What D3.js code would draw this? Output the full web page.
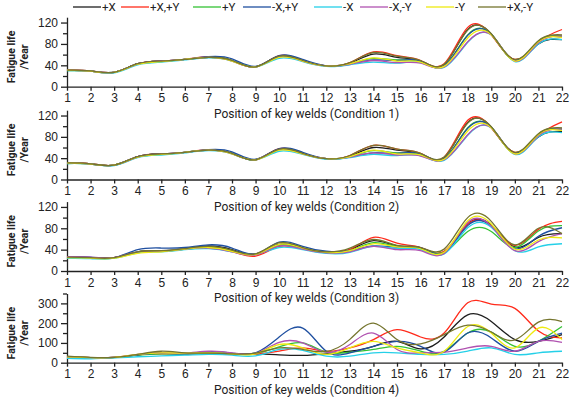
<!DOCTYPE html>
<html>
<head>
<meta charset="utf-8">
<script src="https://cdn.jsdelivr.net/npm/d3@7"></script>
<style>
  body { margin: 0; background: #fff; }
  svg { font-family: Roboto, "Liberation Sans", sans-serif; }
</style>
</head>
<body>
<svg id="chart" width="573" height="399"></svg>
<script>
// weld positions along x
const positions = [1,2,3,4,5,6,7,8,9,10,11,12,13,14,15,16,17,18,19,20,21,22];
const seriesNames = ['+X', '+X,+Y', '+Y', '-X,+Y', '-X', '-X,-Y', '-Y', '+X,-Y'];
const seriesColors = ['#1e1e1e', '#ff2a1a', '#34c234', '#1f4fa0', '#25d0e8', '#b052b0', '#eeea10', '#75752e'];

// fatigue life (years), one row per series in seriesNames order
const cond1 = [
  [31,29.5,27,43,48,51,55,49,37,57,49,39,44,61,55,48,41,107,98,50,80,88],
  [31,29.5,27,43,48,51,56,49,37,58,49,39,45,65,58,49,43,111,97,51,83,107],
  [30,29,27,42,47,51,55,49,37,57,49,39,43,53,50,47,39,97,98,49,85,95],
  [31,29,27,43,48,51,56,52,38,58,51,39,42,50,49,48,39,96,98,49,84,93],
  [30,29,26,41,46,50,54,48,37,53,47,38,41,46,44,45,36,83,97,47,80,88],
  [31,29,27,42,48,51,55,48,37,56,48,39,42,49,45,44,37,84,97,48,82,95],
  [31,29,27,42,47,51,55,48,37,55,48,39,43,54,48,46,38,91,97,48,84,92],
  [31,29.5,27,43,48,51,55,49,37,57,49,39,45,64,57,49,42,106,99,51,86,97]
];
const cond2 = [
  [31,29.5,27,43,48,51,55,49,37,57,49,39,44,60,55,48,41,107,98,50,80,90],
  [31,29.5,27,43,48,51,56,49,37,58,49,39,45,64,57,49,42,111,97,51,82,108],
  [30,29,27,42,47,51,55,49,37,57,49,39,43,54,50,47,39,97,98,49,85,96],
  [31,29,27,43,48,51,56,52,38,58,51,39,42,50,49,48,39,96,98,49,84,94],
  [30,29,26,41,46,50,54,48,37,53,47,38,41,47,45,45,36,83,97,47,80,88],
  [31,29,27,42,48,51,55,48,37,56,48,39,42,50,46,44,37,84,97,48,82,95],
  [31,29,27,42,47,51,55,48,37,55,48,39,43,55,48,46,38,91,97,48,84,92],
  [31,29.5,27,43,48,51,55,49,37,57,49,39,45,64,57,49,42,106,99,51,86,97]
];
const cond3 = [
  [26,25,25,36,38,42,47,40,32,50,43,36,40,57,47,43,36,88,86,45,63,70],
  [26,25,25,35,37,41,44,37,28,46,42,36,40,63,52,44,37,88,84,48,78,93],
  [25,24,24,36,37,41,44,38,31,48,43,35,38,53,46,42,35,74,74,44,75,85],
  [27,26,25,40,43,44,49,43,32,54,46,37,38,47,45,44,34,85,84,42,65,81],
  [24,23,24,34,36,40,42,36,31,44,40,33,35,46,42,40,32,81,82,38,45,51],
  [27,26,25,36,37,41,43,36,30,47,41,34,36,46,40,38,33,91,84,38,55,70],
  [25,24,24,33,36,41,44,37,31,50,43,35,38,51,45,42,35,94,88,41,58,62],
  [26,25,25,36,38,42,46,39,32,53,44,36,43,59,48,44,41,100,93,49,80,70]
];
const cond4 = [
  [30,26,27,40,48,45,48,45,45,40,37,45,58,83,108,70,130,242,208,117,108,142],
  [30,26,27,40,45,45,48,45,45,58,75,58,75,117,167,130,150,303,296,275,160,125],
  [28,25,26,38,45,45,50,45,48,80,100,53,53,67,83,58,58,150,155,83,108,183],
  [30,25,27,40,48,45,55,48,50,130,175,58,50,83,108,83,53,150,125,58,108,150],
  [22,20,24,30,35,38,42,38,35,67,62,33,33,50,50,42,42,58,75,42,50,58],
  [30,26,27,42,50,48,58,50,48,103,100,53,92,150,67,50,53,75,83,58,108,103],
  [30,26,27,42,50,48,50,45,45,92,75,42,75,108,75,50,58,183,150,75,175,117],
  [33,27,27,42,58,50,48,45,48,75,67,57,118,200,117,95,142,190,155,115,205,208]
];

const panels = [
  { data: cond1, title: 'Position of key welds (Condition 1)', top: 17.2, bottom: 86.7, max: 130, major: [0,40,80,120], minor: [20,60,100] },
  { data: cond2, title: 'Position of key welds (Condition 2)', top: 110.2, bottom: 179.5, max: 130, major: [0,40,80,120], minor: [20,60,100] },
  { data: cond3, title: 'Position of key welds (Condition 3)', top: 201.6, bottom: 271, max: 130, major: [0,40,80,120], minor: [20,60,100] },
  { data: cond4, title: 'Position of key welds (Condition 4)', top: 293.5, bottom: 362.7, max: 350, major: [0,100,200,300], minor: [50,150,250,350] }
];

const svg = d3.select('#chart');
const left = 67, right = 562;

const xScale = d3.scaleLinear().domain([1, 22]).range([left, right]);

panels.forEach(p => {
  const yScale = d3.scaleLinear().domain([0, p.max]).range([p.bottom, p.top]);
  const g = svg.append('g');

  // minor ticks first, then the labelled axis
  g.append('g')
    .attr('transform', `translate(${left},0)`)
    .call(d3.axisLeft(yScale).tickValues(p.minor).tickSize(4).tickSizeOuter(0).tickFormat(''))
    .call(a => a.select('.domain').remove());

  g.append('g')
    .attr('transform', `translate(${left},0)`)
    .call(d3.axisLeft(yScale).tickValues(p.major).tickSize(6).tickSizeOuter(0).tickPadding(3))
    .call(a => a.selectAll('text').style('font-size', '12px').attr('fill', '#222'));

  g.append('g')
    .attr('transform', `translate(0,${p.bottom})`)
    .call(d3.axisBottom(xScale).tickValues(positions).tickSize(4).tickSizeOuter(0).tickFormat(d3.format('d')))
    .call(a => a.selectAll('text').style('font-size', '12px').attr('fill', '#222'));

  g.selectAll('.tick line, .domain').attr('stroke', '#222').attr('stroke-width', 1.3);

  const line = d3.line()
    .x((d, i) => xScale(positions[i]))
    .y(d => yScale(d))
    .curve(d3.curveNatural);

  g.selectAll('path.series')
    .data(p.data)
    .enter()
    .append('path')
    .attr('class', 'series')
    .attr('d', d => line(d))
    .attr('fill', 'none')
    .attr('stroke', (d, i) => seriesColors[i])
    .attr('stroke-width', 1.3);

  // x-axis title
  g.append('text')
    .attr('x', (left + right) / 2 - 8)
    .attr('y', p.bottom + 31)
    .style('text-anchor', 'middle')
    .style('font-size', '12px')
    .attr('fill', '#222')
    .text(p.title);

  // y-axis label, two lines
  const cy = (p.top + p.bottom) / 2 + 5;
  g.append('text')
    .attr('transform', `translate(15,${cy}) rotate(-90)`)
    .style('text-anchor', 'middle')
    .style('font-size', '10.5px')
    .style('font-weight', 'bold')
    .attr('fill', '#222')
    .text('Fatigue life');
  g.append('text')
    .attr('transform', `translate(28,${cy}) rotate(-90)`)
    .style('text-anchor', 'middle')
    .style('font-size', '10.5px')
    .style('font-weight', 'bold')
    .attr('fill', '#222')
    .text('/Year');
});

// legend along the top
const legendX = [73, 121, 193, 243, 314, 360, 426, 478];
const legend = svg.append('g');
seriesNames.forEach((name, i) => {
  legend.append('line')
    .attr('x1', legendX[i]).attr('x2', legendX[i] + 28)
    .attr('y1', 7).attr('y2', 7)
    .attr('stroke', seriesColors[i])
    .attr('stroke-width', 1.3);
  legend.append('text')
    .attr('x', legendX[i] + 29)
    .attr('y', 11)
    .style('font-size', '11.5px')
    .attr('fill', '#222')
    .text(name);
});
</script>
</body>
</html>
